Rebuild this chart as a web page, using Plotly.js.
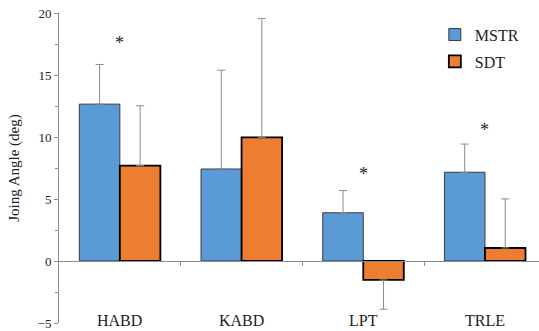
<!DOCTYPE html>
<html>
<head>
<meta charset="utf-8">
<script src="https://cdn.plot.ly/plotly-3.0.1.min.js"></script>
<style>html,body{margin:0;padding:0;background:#fff;}#chart{width:539px;height:331px;}</style>
</head>
<body>
<div id="chart"></div>
<script>
var categories = ['HABD', 'KABD', 'LPT', 'TRLE'];
var mstrValues = [12.65, 7.42, 3.89, 7.16];
var mstrErr = [3.2, 7.97, 1.79, 2.27];
var sdtValues = [7.69, 9.97, -1.53, 1.05];
var sdtErr = [4.83, 9.58, 2.36, 3.96];
var starY = [17.6, null, 7.0, 10.6];
var yTicks = [-5, 0, 5, 10, 15, 20];

var font = 'Liberation Serif';

function errOf(vals, errs, positive) {
  return vals.map(function (v, i) { return (v >= 0) === positive ? errs[i] : 0; });
}

var traces = [
  {
    type: 'bar', name: 'MSTR', x: categories, y: mstrValues,
    marker: {color: '#5B9BD5', line: {color: '#3a3a3a', width: 1}},
    error_y: {type: 'data', symmetric: false, array: errOf(mstrValues, mstrErr, true),
      arrayminus: errOf(mstrValues, mstrErr, false), color: '#8c8c8c', thickness: 1, width: 4},
    legendgroup: 'a'
  },
  {
    type: 'bar', name: 'SDT', x: categories, y: sdtValues,
    marker: {color: '#ED7D31', line: {color: '#000000', width: 1.8}},
    error_y: {type: 'data', symmetric: false, array: errOf(sdtValues, sdtErr, true),
      arrayminus: errOf(sdtValues, sdtErr, false), color: '#8c8c8c', thickness: 1, width: 4},
    legendgroup: 'b'
  }
];

var annotations = [];
categories.forEach(function (c, i) {
  annotations.push({x: c, y: -5, xref: 'x', yref: 'y', text: c, showarrow: false,
    yanchor: 'bottom', xanchor: 'center', yshift: -7, borderpad: 0,
    font: {family: font, size: 16, color: '#222'}});
  if (starY[i] !== null) {
    annotations.push({x: c, y: starY[i], xref: 'x', yref: 'y', text: '*', showarrow: false,
      yanchor: 'middle', xanchor: 'center', font: {family: font, size: 18, color: '#222'}});
  }
});

var layout = {
  width: 539, height: 331,
  margin: {l: 59, r: 0, t: 13, b: 8, pad: 0},
  paper_bgcolor: '#fff', plot_bgcolor: '#fff',
  barmode: 'group', bargap: 0.334, bargroupgap: 0,
  showlegend: true,
  legend: {x: 0.783, y: 0.985, xanchor: 'left', yanchor: 'top', traceorder: 'grouped',
    tracegroupgap: 3, font: {family: font, size: 16, color: '#222'}, bgcolor: 'rgba(0,0,0,0)'},
  font: {family: font, color: '#222'},
  xaxis: {
    range: [-0.5, 3.444], anchor: 'free', position: 0.2,
    showline: true, linecolor: '#8c8c8c', linewidth: 1,
    tickmode: 'array', tickvals: [0.5, 1.5, 2.5], ticktext: ['', '', ''],
    ticks: 'outside', ticklen: 4, tickcolor: '#8c8c8c', showgrid: false, zeroline: false,
    showticklabels: false, fixedrange: true
  },
  yaxis: {
    range: [-5, 20], showline: true, linecolor: '#8c8c8c', linewidth: 1,
    tickmode: 'array', tickvals: yTicks, ticks: 'outside', ticklen: 4, tickcolor: '#8c8c8c',
    ticklabeloverflow: 'allow', automargin: false,
    minor: {dtick: 2.5, ticks: 'outside', ticklen: 3, tickcolor: '#8c8c8c', showgrid: false},
    showgrid: false, zeroline: false,
    tickfont: {family: font, size: 13, color: '#222'},
    title: {text: 'Joing Angle (deg)', font: {family: font, size: 15, color: '#222'}, standoff: 14}
  },
  annotations: annotations
};

Plotly.newPlot('chart', traces, layout, {displayModeBar: false, staticPlot: true});
</script>
</body>
</html>
